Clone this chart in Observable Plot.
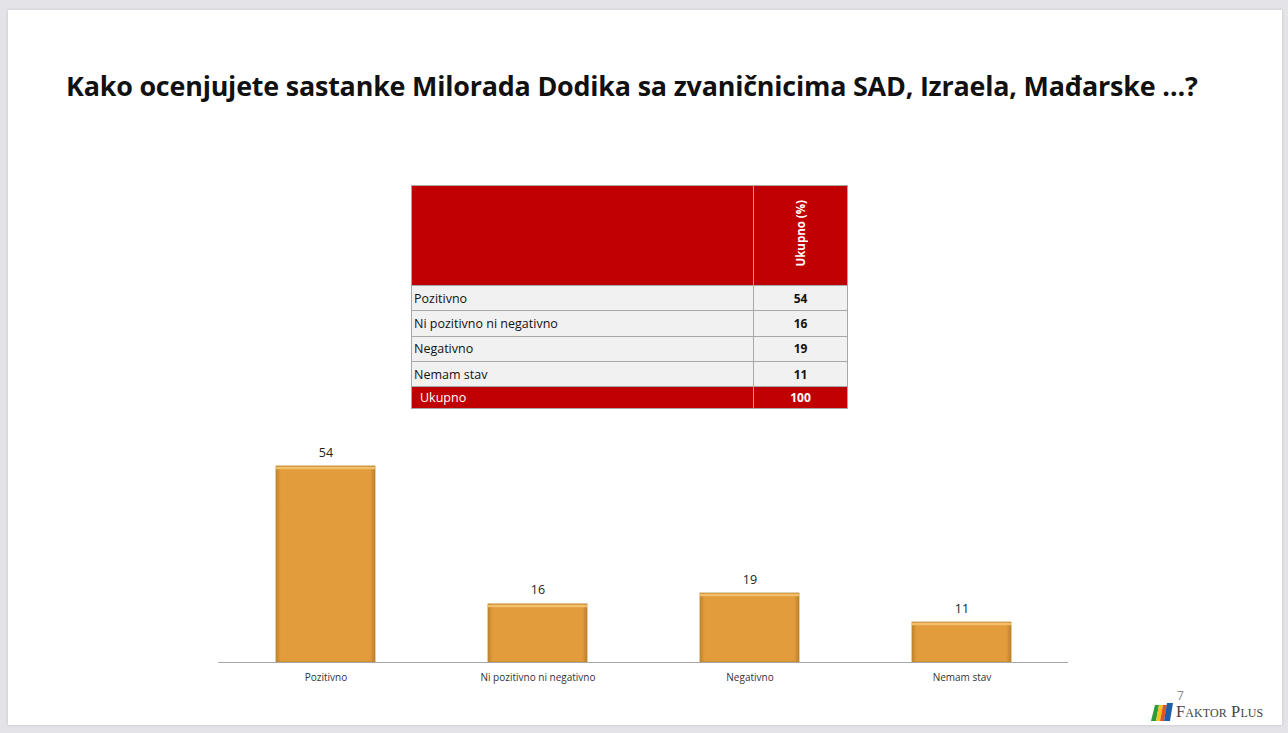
<!DOCTYPE html>
<html>
<head>
<meta charset="utf-8">
<script src="https://cdn.jsdelivr.net/npm/d3@7"></script>
<script src="https://cdn.jsdelivr.net/npm/@observablehq/plot@0.6"></script>
<style>
  html, body { margin: 0; padding: 0; background: #e4e4e8; }
  #page { position: relative; width: 1288px; height: 733px; overflow: hidden; background: #e4e4e8; font-family: "Open Sans", "Noto Sans", sans-serif; }
  #slide { position: absolute; left: 8px; top: 10px; width: 1274px; height: 715px; background: #fff; box-shadow: 0 0 3px rgba(0,0,0,0.15); }
  #title { position: absolute; left: 66px; top: 67px; font-weight: 700; font-size: 26.9px; color: #111; white-space: nowrap; letter-spacing: -0.2px; }
  #tbl { position: absolute; left: 411px; top: 185px; border-collapse: collapse; font-size: 12.5px; color: #111; }
  #tbl td { border: 1.5px solid #a8a8a8; padding: 0 2px; }
  #tbl tr.head td { background: #c00000; height: 99px; }
  #tbl tr.row td { background: #f1f1f1; height: 24.3px; }
  #tbl tr.total td { background: #c00000; color: #fff; height: 20.5px; }
  #tbl td.val { text-align: center; font-weight: 700; font-size: 12px; }
  .vert { writing-mode: vertical-rl; transform: rotate(180deg); color: #fff; font-weight: 700; font-size: 11.5px; display: inline-block; }
  #chart { position: absolute; left: 0; top: 0; }
  #pnum { position: absolute; left: 1177px; top: 687px; font-size: 12px; color: #888; }
  #logo { position: absolute; left: 1151px; top: 702px; display: flex; align-items: center; }
  #logo span { font-family: "Liberation Serif", "DejaVu Serif", serif; font-size: 16.5px; color: #444; font-variant: small-caps; letter-spacing: 0.1px; margin-left: 3px; }
</style>
</head>
<body>
<div id="page">
  <div id="slide"></div>
  <div id="title"></div>
  <table id="tbl"></table>
  <div id="chart"></div>
  <div id="pnum">7</div>
  <div id="logo">
    <svg width="22" height="20" viewBox="0 0 22 20">
      <polygon points="4,3 8,3 5,19 0,19" fill="#2e9b3a"/>
      <polygon points="8,3 12,3 9,19 5,19" fill="#f2c318"/>
      <polygon points="12,3 16,3 13,19 9,19" fill="#e8531f"/>
      <polygon points="16,1 22,1 19,19 13,19" fill="#1f5fa8"/>
    </svg>
    <span>Faktor Plus</span>
  </div>
</div>
<script>
const titleText = "Kako ocenjujete sastanke Milorada Dodika sa zvaničnicima SAD, Izraela, Mađarske …?";
const categories = ["Pozitivno", "Ni pozitivno ni negativno", "Negativno", "Nemam stav"];
const values = [54, 16, 19, 11];
const columnLabel = "Ukupno (%)";
const totalLabel = "Ukupno";
const totalValue = 100;

document.getElementById("title").textContent = titleText;

// table
const tbl = document.getElementById("tbl");
let html = `<tr class="head"><td style="width:337px"></td><td style="width:89px;text-align:center"><span class="vert">${columnLabel}</span></td></tr>`;
categories.forEach((c, i) => {
  html += `<tr class="row"><td>${c}</td><td class="val">${values[i]}</td></tr>`;
});
html += `<tr class="total"><td style="padding-left:8px">${totalLabel}</td><td class="val">${totalValue}</td></tr>`;
tbl.innerHTML = html;

const data = categories.map((c, i) => ({cat: c, v: values[i]}));

const chart = Plot.plot({
  width: 1288,
  height: 733,
  marginLeft: 218,
  marginRight: 220,
  marginBottom: 71,
  marginTop: 0,
  style: {background: "transparent", fontFamily: "'Open Sans', sans-serif"},
  x: {type: "band", domain: categories, paddingInner: 0.535, paddingOuter: 0.2675, axis: null},
  y: {domain: [0, 54], range: [662, 466], axis: null},
  marks: [
    Plot.barY(data, {x: "cat", y: "v", fill: "url(#barGrad)", stroke: "#b9822e", strokeWidth: 0.8}),
    Plot.tickY(data, {x: "cat", y: "v", stroke: "#f3c06a", strokeWidth: 2.5, dy: 1.5}),
    Plot.ruleY([0], {stroke: "#a6a6a6", strokeWidth: 1.2}),
    Plot.text(data, {x: "cat", y: "v", text: d => String(d.v), dy: -14, fontSize: 12.5, fill: "#222"}),
    Plot.axisX({domain: categories, tickSize: 0, tickPadding: 11, fontSize: 10, color: "#333", label: null})
  ]
});
const ns = "http://www.w3.org/2000/svg";
const defs = document.createElementNS(ns, "defs");
defs.innerHTML = `<linearGradient id="barGrad" x1="0" x2="1" y1="0" y2="0">
  <stop offset="0" stop-color="#c4852c"/>
  <stop offset="0.05" stop-color="#e29c3c"/>
  <stop offset="0.95" stop-color="#e29c3c"/>
  <stop offset="1" stop-color="#bf8028"/>
</linearGradient>`;
chart.insertBefore(defs, chart.firstChild);
document.getElementById("chart").appendChild(chart);
</script>
</body>
</html>
